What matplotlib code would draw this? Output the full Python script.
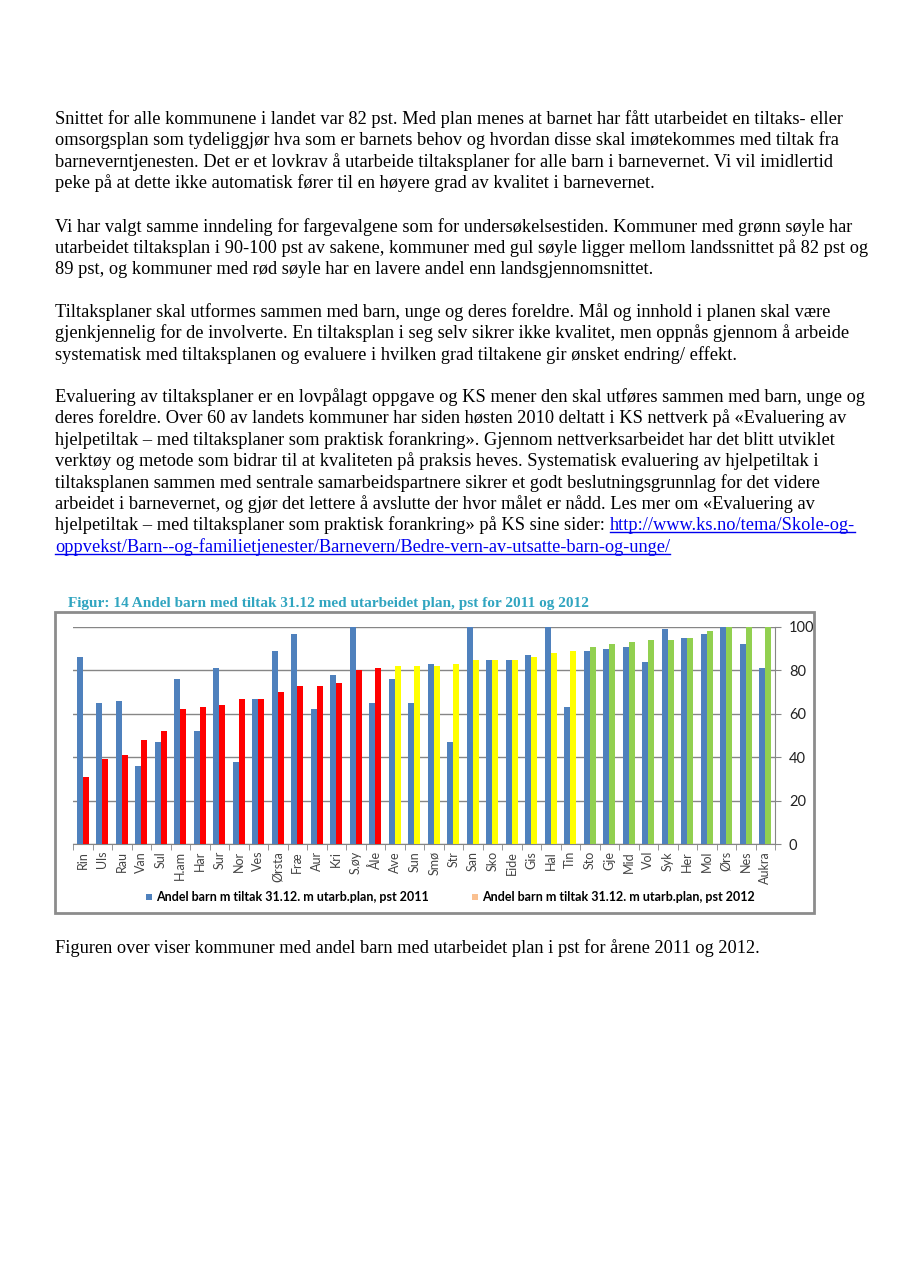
import matplotlib
matplotlib.use("Agg")
import matplotlib.pyplot as plt
from matplotlib.patches import Rectangle
from matplotlib.lines import Line2D

W, H = 908, 1286

categories = ["Rin", "Uls", "Rau", "Van", "Sul", "H.am", "Har", "Sur", "Nor", "Ves",
              "Ørsta", "Fræ", "Aur", "Kri", "S.øy", "Åle", "Ave", "Sun", "Smø", "Str",
              "San", "Sko", "Eide", "Gis", "Hal", "Tin", "Sto", "Gje", "Mid", "Vol",
              "Syk", "Her", "Mol", "Ørs", "Nes", "Aukra"]
pst_2011 = [86, 65, 66, 36, 47, 76, 52, 81, 38, 67, 89, 97, 62, 78, 100, 65, 76, 65, 83, 47,
            100, 85, 85, 87, 100, 63, 89, 90, 91, 84, 99, 95, 97, 100, 92, 81]
pst_2012 = [31, 39, 41, 48, 52, 62, 63, 64, 67, 67, 70, 73, 73, 74, 80, 81, 82, 82, 82, 83,
            85, 85, 85, 86, 88, 89, 91, 92, 93, 94, 94, 95, 98, 100, 100, 100]
group_2012 = ["rød"] * 16 + ["gul"] * 10 + ["grønn"] * 10
group_colors = {"rød": "#FF0000", "gul": "#FFFF00", "grønn": "#92D050"}
yticks = [0, 20, 40, 60, 80, 100]
legend_labels = ["Andel barn m tiltak 31.12. m utarb.plan, pst 2011",
                 "Andel barn m tiltak 31.12. m utarb.plan, pst 2012"]
title = "Figur: 14 Andel barn med tiltak 31.12 med utarbeidet plan, pst for 2011 og 2012"

paragraphs = [
    ["Snittet for alle kommunene i landet var 82 pst. Med plan menes at barnet har fått utarbeidet en tiltaks- eller",
     "omsorgsplan som tydeliggjør hva som er barnets behov og hvordan disse skal imøtekommes med tiltak fra",
     "barneverntjenesten. Det er et lovkrav å utarbeide tiltaksplaner for alle barn i barnevernet. Vi vil imidlertid",
     "peke på at dette ikke automatisk fører til en høyere grad av kvalitet i barnevernet."],
    ["Vi har valgt samme inndeling for fargevalgene som for undersøkelsestiden. Kommuner med grønn søyle har",
     "utarbeidet tiltaksplan i 90-100 pst av sakene, kommuner med gul søyle ligger mellom landssnittet på 82 pst og",
     "89 pst, og kommuner med rød søyle har en lavere andel enn landsgjennomsnittet."],
    ["Tiltaksplaner skal utformes sammen med barn, unge og deres foreldre. Mål og innhold i planen skal være",
     "gjenkjennelig for de involverte. En tiltaksplan i seg selv sikrer ikke kvalitet, men oppnås gjennom å arbeide",
     "systematisk med tiltaksplanen og evaluere i hvilken grad tiltakene gir ønsket endring/ effekt."],
    ["Evaluering av tiltaksplaner er en lovpålagt oppgave og KS mener den skal utføres sammen med barn, unge og",
     "deres foreldre. Over 60 av landets kommuner har siden høsten 2010 deltatt i KS nettverk på «Evaluering av",
     "hjelpetiltak – med tiltaksplaner som praktisk forankring». Gjennom nettverksarbeidet har det blitt utviklet",
     "verktøy og metode som bidrar til at kvaliteten på praksis heves. Systematisk evaluering av hjelpetiltak i",
     "tiltaksplanen sammen med sentrale samarbeidspartnere sikrer et godt beslutningsgrunnlag for det videre",
     "arbeidet i barnevernet, og gjør det lettere å avslutte der hvor målet er nådd. Les mer om «Evaluering av"],
]
link_prefix = "hjelpetiltak – med tiltaksplaner som praktisk forankring» på KS sine sider: "
link1 = "http://www.ks.no/tema/Skole-og-"
link2 = "oppvekst/Barn--og-familietjenester/Barnevern/Bedre-vern-av-utsatte-barn-og-unge/"
after_text = "Figuren over viser kommuner med andel barn med utarbeidet plan i pst for årene 2011 og 2012."

fig = plt.figure(figsize=(W / 100, H / 100), dpi=100)
fig.patch.set_facecolor("white")

def fx(x):
    return x / W

def fy(y):
    return 1 - y / H

serif = "Liberation Serif"
body_fs = 13.2
link_color = "#0000EE"

line_h = 21.4
para_starts = [119, 227, 312, 397]
for start, para in zip(para_starts, paragraphs):
    for i, line in enumerate(para):
        fig.text(fx(55), fy(start + i * line_h), line, family=serif, fontsize=body_fs,
                 va="center", ha="left", color="black")

y_l7 = 397 + 6 * line_h
y_l8 = 397 + 7 * line_h
pref = fig.text(fx(55), fy(y_l7), link_prefix, family=serif, fontsize=body_fs,
                va="center", ha="left", color="black")
fig.canvas.draw()
r = fig.canvas.get_renderer()
bb = pref.get_window_extent(r)
x_link = bb.x1
t1 = fig.text(x_link / W, fy(y_l7), link1, family=serif, fontsize=body_fs,
              va="center", ha="left", color=link_color)
t2 = fig.text(fx(55), fy(y_l8), link2, family=serif, fontsize=body_fs,
              va="center", ha="left", color=link_color)
fig.canvas.draw()
for t, yy in ((t1, y_l7), (t2, y_l8)):
    b = t.get_window_extent(r)
    fig.add_artist(Line2D([b.x0 / W, b.x1 / W], [fy(yy + 7), fy(yy + 7)],
                          color=link_color, lw=1, transform=fig.transFigure))

fig.text(fx(55), fy(948), after_text, family=serif, fontsize=body_fs,
         va="center", ha="left", color="black")

# Chart title
fig.text(fx(68), fy(603), title, family=serif, fontsize=11.0, fontweight="bold",
         va="center", ha="left", color="#31A5C0")

# Chart frame
fig.add_artist(Rectangle((fx(55), fy(913)), (814 - 55) / W, (913 - 612) / H,
                         transform=fig.transFigure, fill=False, edgecolor="#8C8C8C", lw=2))

ax = fig.add_axes([fx(73), fy(844), (775 - 73) / W, (844 - 627) / H])
n = len(categories)
xs = list(range(n))
bw = 0.30
ax.bar([x - bw / 2 for x in xs], pst_2011, width=bw, color="#4F81BD", zorder=3)
ax.bar([x + bw / 2 for x in xs], pst_2012, width=bw,
       color=[group_colors[g] for g in group_2012], zorder=3)
ax.set_xlim(-0.5, n - 0.5)
ax.set_ylim(0, 100)
ax.set_yticks(yticks)
ax.yaxis.tick_right()
ax.grid(axis="y", color="#868686", lw=1, zorder=0)
ax.set_axisbelow(True)
for s in ("top", "left"):
    ax.spines[s].set_visible(False)
ax.spines["right"].set_color("#868686")
ax.spines["bottom"].set_color("#868686")
ax.tick_params(axis="y", which="major", length=4, color="#868686", labelsize=10.5,
               labelcolor="#222222", pad=6)
ax.set_xticks(xs)
ax.set_xticklabels(categories, rotation=90, family="Lato", fontsize=9, color="#444444")
ax.set_xticks([x - 0.5 for x in range(n + 1)], minor=True)
ax.tick_params(axis="x", which="major", length=0, pad=5)
ax.tick_params(axis="x", which="minor", length=4, color="#868686")
for lbl in ax.get_yticklabels():
    lbl.set_family("Lato")

# Legend
leg_colors = ["#4F81BD", "#FAC090"]
leg_x = [146, 472]
for c, x0, lab in zip(leg_colors, leg_x, legend_labels):
    fig.add_artist(Rectangle((fx(x0), fy(900)), 6 / W, 6 / H, transform=fig.transFigure,
                             facecolor=c, edgecolor="none"))
    fig.text(fx(x0 + 10), fy(897), lab, family="Lato", fontweight="bold", fontsize=9,
             va="center", ha="left", color="black")

fig.savefig("out.png", dpi=100, facecolor="white")
